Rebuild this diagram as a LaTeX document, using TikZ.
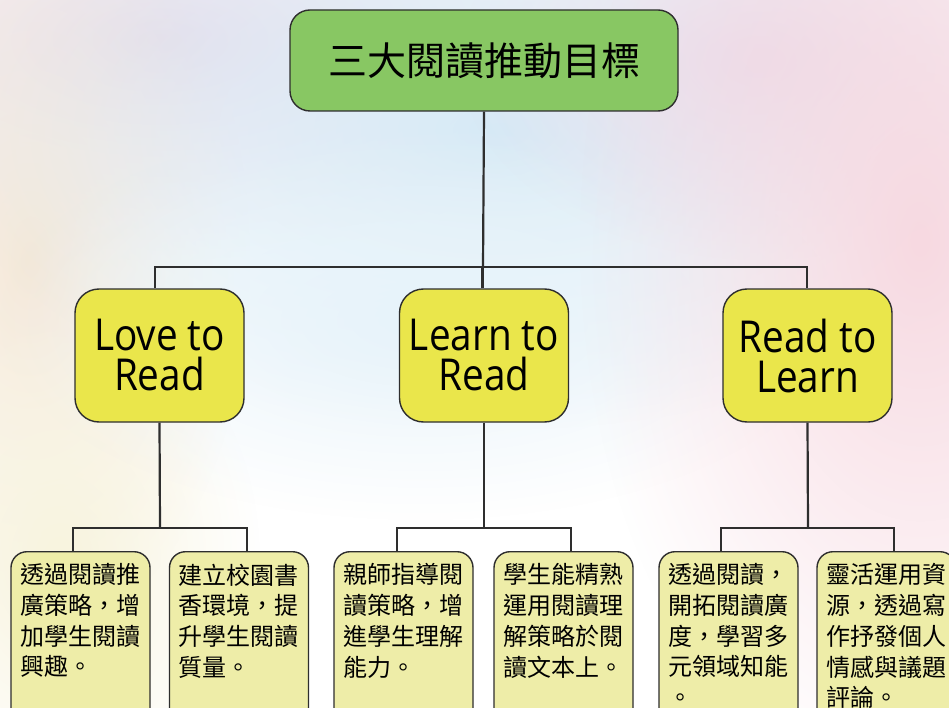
\documentclass[tikz,border=0pt]{standalone}
\usepackage{fontspec}
\setmainfont{Open Sans}
\newfontfamily\engfont[FakeStretch=0.88]{Open Sans}
\newfontfamily\cjk{Noto Sans CJK TC}
\usetikzlibrary{fadings}
\tikzfading[name=softedge, inner color=transparent!0, outer color=transparent!100]
\definecolor{topgreen}{HTML}{88C763}
\definecolor{midy}{HTML}{EAE64B}
\definecolor{lowy}{HTML}{EEEDA8}
\definecolor{linec}{HTML}{2E2E2E}
\definecolor{bgpink}{HTML}{F7D9E1}
\definecolor{bglav}{HTML}{EADDEB}
\definecolor{bgblue}{HTML}{D6EAF6}
\definecolor{bgpeach}{HTML}{F5E8D8}
\definecolor{bgcream}{HTML}{F8F4DE}
\begin{document}
\begin{tikzpicture}[x=1pt,y=-1pt,
  topbox/.style={draw=linec, line width=1.4pt, fill=topgreen, rounded corners=20pt,
    minimum width=388pt, minimum height=101pt, inner sep=0pt,
    font=\cjk\fontsize{39pt}{44pt}\selectfont},
  midbox/.style={draw=linec, line width=1.4pt, fill=midy, rounded corners=24pt,
    minimum width=169pt, minimum height=133pt, inner sep=0pt, align=center,
    font=\engfont\fontsize{44pt}{40pt}\selectfont},
  lowbox/.style={draw=linec, line width=1.4pt, fill=lowy, rounded corners=16pt,
    anchor=north, inner xsep=9pt, inner ysep=12pt,
    font=\cjk\fontsize{24pt}{30.7pt}\selectfont},
  conn/.style={draw=linec, line width=2.2pt}]
\useasboundingbox (0,0) rectangle (949,708);
\clip (0,0) rectangle (949,708);
\fill[white] (0,0) rectangle (949,708);
% watercolour background
\fill[bglav, path fading=softedge] (160,40) ellipse [x radius=460pt, y radius=220pt];
\fill[bgpeach, path fading=softedge] (30,260) ellipse [x radius=220pt, y radius=380pt];
\fill[bgcream, path fading=softedge] (60,560) ellipse [x radius=200pt, y radius=260pt];
\fill[bgblue, path fading=softedge] (500,130) ellipse [x radius=560pt, y radius=300pt];
\fill[bgblue!60, path fading=softedge] (420,320) ellipse [x radius=420pt, y radius=200pt];
\fill[bglav, path fading=softedge] (760,60) ellipse [x radius=300pt, y radius=200pt];
\fill[bgpink, path fading=softedge] (920,240) ellipse [x radius=340pt, y radius=560pt];

% nodes
\node[topbox] (top) at (484,60.5) {三大閱讀推動目標};
\node[midbox] (m1) at (159.5,355.5) {\raisebox{-4pt}{Love to}\\\raisebox{-4pt}{Read}};
\node[midbox] (m2) at (484,355.5) {Learn to\\Read};
\node[midbox] (m3) at (807.5,355.5) {Read to\\Learn};

\node[lowbox] (b1) at (80.5,551) {\parbox[t][170pt][t]{121pt}{\raggedright 透過閱讀推\\廣策略，增\\加學生閱讀\\興趣。}};
\node[lowbox] (b2) at (239,551) {\parbox[t][170pt][t]{121pt}{\raggedright 建立校園書\\香環境，提\\升學生閱讀\\質量。}};
\node[lowbox] (b3) at (403.5,551) {\parbox[t][170pt][t]{121pt}{\raggedright 親師指導閱\\讀策略，增\\進學生理解\\能力。}};
\node[lowbox] (b4) at (563.5,551) {\parbox[t][170pt][t]{121pt}{\raggedright 學生能精熟\\運用閱讀理\\解策略於閱\\讀文本上。}};
\node[lowbox] (b5) at (728.5,551) {\parbox[t][170pt][t]{121pt}{\raggedright 透過閱讀，\\開拓閱讀廣\\度，學習多\\元領域知能\\。}};
\node[lowbox] (b6) at (886.5,551) {\parbox[t][170pt][t]{121pt}{\raggedright 靈活運用資\\源，透過寫\\作抒發個人\\情感與議題\\評論。}};

% connectors
\coordinate (tj) at (483,267);
\draw[conn] (top.south) -- (tj);
\draw[conn] ([xshift=-4.5pt]m1.north) |- (tj) -| ([xshift=-0.5pt]m3.north);
\draw[conn] ([xshift=-1.5pt]m2.north) -- ([xshift=-1.5pt]m2.north |- tj);

\coordinate (j1) at (160,528);
\coordinate (j2) at (484,528);
\coordinate (j3) at (808,528);
\draw[conn] (m1.south) -- (j1);
\draw[conn] (m2.south) -- (j2);
\draw[conn] (m3.south) -- (j3);
\draw[conn] ([xshift=-7.5pt]b1.north) |- (j1) -| ([xshift=8pt]b2.north);
\draw[conn] ([xshift=-6.5pt]b3.north) |- (j2) -| ([xshift=7.5pt]b4.north);
\draw[conn] ([xshift=-7.5pt]b5.north) |- (j3) -| ([xshift=7.5pt]b6.north);
\end{tikzpicture}
\end{document}
